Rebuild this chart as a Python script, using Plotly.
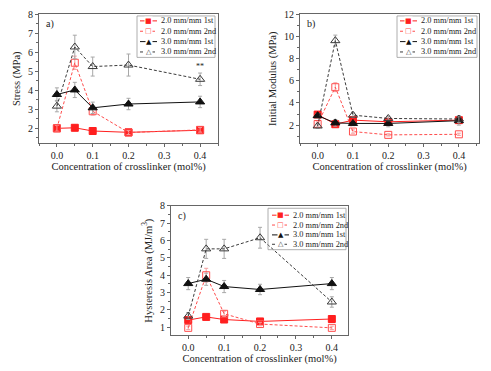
import plotly.graph_objects as go

# ---------------- data ----------------
conc = [0.0, 0.05, 0.1, 0.2, 0.4]
series_names = ["2.0 mm/mm 1st", "2.0 mm/mm 2nd", "3.0 mm/mm 1st", "3.0 mm/mm 2nd"]

stress_20_1st = [2.00, 2.03, 1.86, 1.79, 1.90]
stress_20_2nd = [2.00, 5.45, 2.90, 1.78, 1.92]
stress_30_1st = [3.78, 4.02, 3.08, 3.28, 3.39]
stress_30_2nd = [3.17, 6.28, 5.25, 5.33, 4.58]
stress_20_1st_err = [0.12, 0.15, 0.10, 0.10, 0.14]
stress_20_2nd_err = [0.15, 0.35, 0.20, 0.10, 0.12]
stress_30_1st_err = [0.35, 0.40, 0.30, 0.30, 0.30]
stress_30_2nd_err = [0.30, 0.62, 0.50, 0.58, 0.33]

mod_20_1st = [2.95, 2.08, 2.45, 2.30, 2.45]
mod_20_2nd = [2.10, 5.42, 1.42, 1.12, 1.17]
mod_30_1st = [2.85, 2.20, 2.15, 2.15, 2.40]
mod_30_2nd = [1.92, 9.62, 2.90, 2.60, 2.55]
mod_20_1st_err = [0.20, 0.20, 0.20, 0.20, 0.20]
mod_20_2nd_err = [0.20, 0.40, 0.15, 0.10, 0.10]
mod_30_1st_err = [0.20, 0.30, 0.20, 0.30, 0.40]
mod_30_2nd_err = [0.20, 0.50, 0.20, 0.20, 0.30]

hyst_20_1st = [1.42, 1.60, 1.45, 1.34, 1.48]
hyst_20_2nd = [0.97, 4.00, 1.78, 1.19, 0.97]
hyst_30_1st = [3.52, 3.77, 3.35, 3.18, 3.52]
hyst_30_2nd = [1.65, 5.52, 5.52, 6.16, 2.46]
hyst_20_1st_err = [0.10, 0.10, 0.10, 0.10, 0.10]
hyst_20_2nd_err = [0.10, 0.40, 0.15, 0.10, 0.10]
hyst_30_1st_err = [0.35, 0.35, 0.35, 0.30, 0.35]
hyst_30_2nd_err = [0.20, 0.55, 0.55, 0.60, 0.30]

x_ticks = [0.0, 0.1, 0.2, 0.3, 0.4]
x_tick_labels = ["0.0", "0.1", "0.2", "0.3", "0.4"]
x_title = "Concentration of crosslinker (mol%)"
panel_labels = ["a)", "b)", "c)"]
y_titles = ["Stress (MPa)", "Initial Modulus (MPa)", "Hysteresis Area (MJ/m<sup>3</sup>)"]

# ---------------- styles ----------------
FONT = "Liberation Serif, Times New Roman, serif"
RED = "#ff1f1f"
RED2 = "#ff4d4d"
BLK = "#111111"
BLK2 = "#3a3a3a"
styles = [
    dict(color=RED, dash="solid", symbol="square", msize=7, ecolor="#f3a0a0"),
    dict(color=RED2, dash="3px,2px", symbol="square-open", msize=7, ecolor="#f3a0a0"),
    dict(color=BLK, dash="solid", symbol="triangle-up", msize=8, ecolor="#a8a8a8"),
    dict(color=BLK2, dash="3px,2px", symbol="triangle-up-open", msize=8, ecolor="#a8a8a8"),
]

# the page body adds an 8px offset; size the figure so it fits the window
OFF = 8
W, H = 491 - OFF, 371 - OFF
# plot boxes in window pixels (left, top, right, bottom)
boxes = [(39, 9.3, 218, 140), (300, 9.3, 479, 140), (171, 203.5, 348, 335)]
yranges = [[1.22, 8], [0.37, 12], [0.53, 8]]
ydticks = [1, 2, 1]
xranges = [[-0.05, 0.45], [-0.05, 0.457], [-0.048, 0.445]]

panels = [
    ([stress_20_1st, stress_20_2nd, stress_30_1st, stress_30_2nd],
     [stress_20_1st_err, stress_20_2nd_err, stress_30_1st_err, stress_30_2nd_err]),
    ([mod_20_1st, mod_20_2nd, mod_30_1st, mod_30_2nd],
     [mod_20_1st_err, mod_20_2nd_err, mod_30_1st_err, mod_30_2nd_err]),
    ([hyst_20_1st, hyst_20_2nd, hyst_30_1st, hyst_30_2nd],
     [hyst_20_1st_err, hyst_20_2nd_err, hyst_30_1st_err, hyst_30_2nd_err]),
]

fig = go.Figure()
layout = dict(
    width=W, height=H, margin=dict(l=0, r=0, t=0, b=0),
    paper_bgcolor="white", plot_bgcolor="white",
    showlegend=False, font=dict(family=FONT, size=10, color="#222"),
)
annotations = []
shapes = []

for p, ((vals, errs), box) in enumerate(zip(panels, boxes)):
    sfx = "" if p == 0 else str(p + 1)
    xa, ya = "x" + sfx, "y" + sfx
    l, t, r, b = (v - OFF for v in box)
    for s, (v, e, st, nm) in enumerate(zip(vals, errs, styles, series_names)):
        fig.add_trace(go.Scatter(
            x=conc, y=v, name=nm, xaxis=xa, yaxis=ya, mode="lines+markers",
            line=dict(color=st["color"], width=1, dash=st["dash"]),
            marker=dict(symbol=st["symbol"], size=st["msize"], color=st["color"],
                        line=dict(color=st["color"], width=1)),
            error_y=dict(type="data", array=e, visible=True, color=st["ecolor"],
                         thickness=1, width=2),
        ))
    axis_common = dict(showline=True, mirror=True, linecolor="#666", linewidth=1,
                       showgrid=False, zeroline=False, ticks="outside", ticklen=3,
                       tickcolor="#666", tickfont=dict(family=FONT, size=10, color="#222"))
    layout["xaxis" + sfx] = dict(
        axis_common, domain=[l / W, r / W], range=xranges[p], anchor=ya,
        tickvals=x_ticks, ticktext=x_tick_labels,
        minor=dict(ticks="outside", ticklen=2, dtick=0.05, tick0=0, tickcolor="#666"),
        title=dict(text=x_title, font=dict(family=FONT, size=10.5, color="#222"), standoff=0),
    )
    layout["yaxis" + sfx] = dict(
        axis_common, domain=[1 - b / H, 1 - t / H], range=yranges[p], anchor=xa,
        dtick=ydticks[p], tick0=0,
        minor=dict(ticks="outside", ticklen=2, dtick=ydticks[p] / 2, tick0=0, tickcolor="#666"),
        title=dict(text=y_titles[p], font=dict(family=FONT, size=10.5, color="#222"), standoff=5),
    )
    annotations.append(dict(text=panel_labels[p], xref=xa + " domain", yref=ya + " domain",
                            x=0.03, y=0.985, xanchor="left", yanchor="top", showarrow=False,
                            font=dict(family=FONT, size=10, color="#222")))

    # ---- legend (drawn as text + shapes inside the plot) ----
    pw, ph = r - l, b - t
    tx = {0: 159, 1: 419, 2: 291}[p] - OFF
    rows = [v - OFF for v in {0: [16, 26.5, 37, 47.5], 1: [16, 26.5, 37, 47.5],
                              2: [213, 223, 233, 242.5]}[p]]
    box_px = [v - OFF for v in {0: (137, 11, 215, 53), 1: (397, 11, 477, 53),
                                2: (268, 206, 346, 248)}[p]]

    def dx(px):
        return (px - l) / pw

    def dy(py):
        return 1 - (py - t) / ph

    shapes.append(dict(type="rect", xref=xa + " domain", yref=ya + " domain",
                       x0=dx(box_px[0]), x1=dx(box_px[2]), y0=dy(box_px[3]), y1=dy(box_px[1]),
                       line=dict(color="#9a9a9a", width=0.8), fillcolor="rgba(0,0,0,0)"))
    glyphs = ["■", "□", "▲", "△"]
    for s, (st, nm, ry) in enumerate(zip(styles, series_names, rows)):
        shapes.append(dict(type="line", xref=xa + " domain", yref=ya + " domain",
                           x0=dx(tx - 19), x1=dx(tx - 2), y0=dy(ry), y1=dy(ry),
                           line=dict(color=st["color"], width=1,
                                     dash="solid" if st["dash"] == "solid" else "dot")))
        annotations.append(dict(text=glyphs[s], xref=xa + " domain", yref=ya + " domain",
                                x=dx(tx - 10.5), y=dy(ry), xanchor="center", yanchor="middle",
                                showarrow=False, bgcolor="white", borderpad=0,
                                font=dict(family="DejaVu Sans", size=7, color=st["color"])))
        annotations.append(dict(text=nm, xref=xa + " domain", yref=ya + " domain",
                                x=dx(tx), y=dy(ry), xanchor="left", yanchor="middle",
                                showarrow=False,
                                font=dict(family=FONT, size=8.3, color="#222")))

# significance mark in panel a
annotations.append(dict(text="**", xref="x", yref="y", x=conc[-1], y=5.25, showarrow=False,
                        font=dict(family=FONT, size=8, color="#222")))

layout["annotations"] = annotations
layout["shapes"] = shapes
fig.update_layout(**layout)
fig.write_html("out.html")
